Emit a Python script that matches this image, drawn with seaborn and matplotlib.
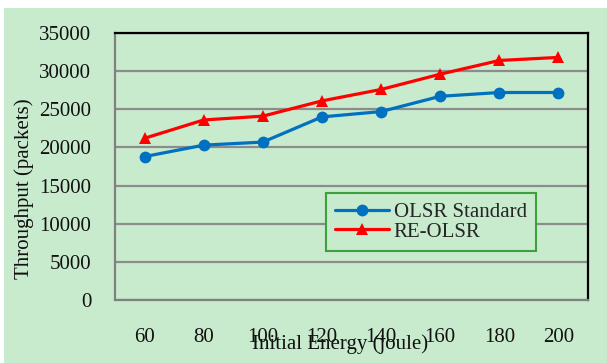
import matplotlib
matplotlib.use("Agg")
import matplotlib.pyplot as plt
import seaborn as sns
import pandas as pd
from matplotlib.patches import Rectangle

energy = ["60", "80", "100", "120", "140", "160", "180", "200"]
olsr_standard = [18800, 20300, 20700, 24000, 24700, 26700, 27200, 27200]
re_olsr = [21200, 23600, 24100, 26100, 27600, 29600, 31400, 31800]
y_ticks = [0, 5000, 10000, 15000, 20000, 25000, 30000, 35000]

sns.set_theme(style="white")
plt.rcParams["font.family"] = ["Liberation Serif", "DejaVu Serif"]

BG = "#C8EBCD"
FS = 15
W, H = 607, 363
fig = plt.figure(figsize=(W / 100, H / 100), dpi=100, facecolor="white")
fig.patches.append(Rectangle((4 / W, 0), 1, 1 - 8 / H, transform=fig.transFigure,
                             facecolor=BG, edgecolor="none", zorder=-10))

ax = fig.add_axes([115 / W, 1 - 300 / H, (588 - 115) / W, (300 - 33) / H])
ax.set_facecolor(BG)

df = pd.DataFrame({"energy": energy * 2,
                   "throughput": olsr_standard + re_olsr,
                   "series": ["OLSR Standard"] * 8 + ["RE-OLSR"] * 8})

sns.lineplot(data=df[df.series == "OLSR Standard"], x="energy", y="throughput", ax=ax,
             color="#0070C0", lw=2.3, marker="o", markersize=8.5, markeredgewidth=0,
             label="OLSR Standard", sort=False)
sns.lineplot(data=df[df.series == "RE-OLSR"], x="energy", y="throughput", ax=ax,
             color="#FF0000", lw=2.3, marker="^", markersize=8, markeredgewidth=0,
             label="RE-OLSR", sort=False)

ax.set_xlim(-0.5, 7.5)
ax.set_ylim(0, 35000)
ax.set_yticks(y_ticks)
ax.set_yticklabels([str(v) for v in y_ticks])
ax.tick_params(axis="y", length=0, pad=17, labelsize=FS, colors="#111111")
ax.tick_params(axis="x", length=0, pad=20, labelsize=FS, colors="#111111")
ax.yaxis.grid(True, color="#8C8C8C", lw=1.6)
ax.xaxis.grid(False)
ax.set_axisbelow(True)

for s in ["left", "bottom"]:
    ax.spines[s].set_color("#808080")
    ax.spines[s].set_linewidth(1.6)
for s in ["top", "right"]:
    ax.spines[s].set_color("#000000")
    ax.spines[s].set_linewidth(1.6)

ax.set_xlabel("Initial Energy (joule)", fontsize=FS, color="#111111")
ax.set_ylabel("Throughput (packets)", fontsize=FS, color="#111111")
ax.xaxis.set_label_coords((340 - 115) / 473, -(334 - 300) / 267)
ax.yaxis.set_label_coords(-(115 - 34) / 473, (300 - 189) / 267)

leg = ax.legend(loc="upper left", bbox_to_anchor=((326 - 115) / 473, (300 - 193) / 267),
                fontsize=FS, frameon=True, fancybox=False, facecolor=BG,
                edgecolor="#3CA03C", handlelength=2.55, borderpad=0.45,
                labelspacing=0.0, handletextpad=0.25, borderaxespad=0)
leg.get_frame().set_linewidth(1.5)
leg.get_frame().set_alpha(1)

fig.savefig("out.png", dpi=100, facecolor="white")
